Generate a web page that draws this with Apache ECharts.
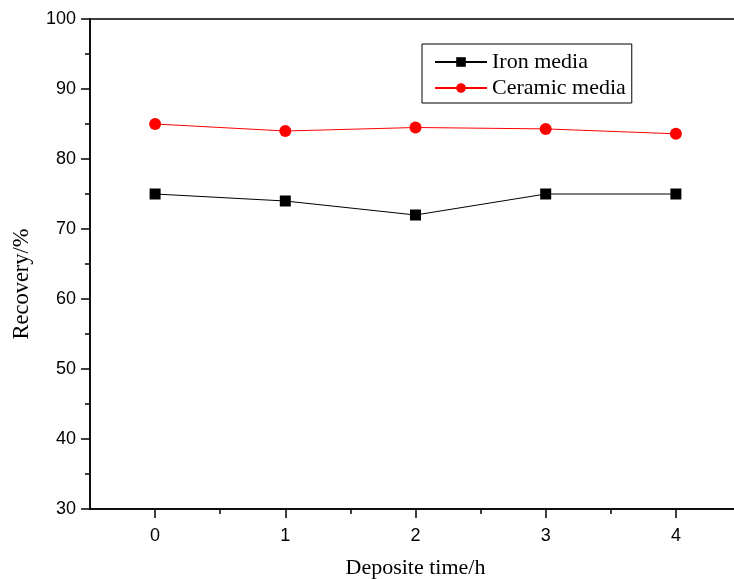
<!DOCTYPE html>
<html><head><meta charset="utf-8">
<script src="https://cdn.jsdelivr.net/npm/echarts@6/dist/echarts.min.js"></script>
<style>html,body{margin:0;padding:0;background:#fff;overflow:hidden}#c{width:741px;height:579px}</style>
</head><body><div id="c"></div>
<script>
const times = [0, 1, 2, 3, 4];
const ironMedia = [75, 74, 72, 75, 75];
const ceramicMedia = [85, 84, 84.5, 84.3, 83.6];
const xMajorTicks = [0, 1, 2, 3, 4];
const xMinorTicks = [0.5, 1.5, 2.5, 3.5];

const chart = echarts.init(document.getElementById('c'));
const serif = 'Liberation Serif';
const sans = 'Liberation Sans';
chart.setOption({
  animation: false,
  grid: {left: 90, top: 19, right: 0, bottom: 70, show: true, borderColor: '#000', borderWidth: 1.5, outerBoundsMode: 'none', containLabel: false},
  legend: {
    left: 422, top: 44, orient: 'vertical',
    borderColor: '#000', borderWidth: 1,
    padding: [7, 6, 4, 12], itemGap: 4,
    itemWidth: 52, itemHeight: 12,
    textStyle: {fontFamily: serif, fontSize: 22, color: '#000'},
    data: ['Iron media', 'Ceramic media']
  },
  xAxis: [{
    type: 'value', min: -0.5, max: 4.5, interval: 0.5,
    name: 'Deposite time/h', nameLocation: 'middle', nameGap: 48,
    nameTextStyle: {fontFamily: serif, fontSize: 22, color: '#000'},
    axisLine: {onZero: false, lineStyle: {color: '#000', width: 1.5}},
    axisTick: {customValues: xMajorTicks, length: 9, lineStyle: {color: '#000', width: 1.5}},
    axisLabel: {customValues: xMajorTicks, fontFamily: sans, fontSize: 18, color: '#000', margin: 18},
    splitLine: {show: false}
  }, {
    type: 'value', min: -0.5, max: 4.5, interval: 0.5, position: 'bottom',
    axisLine: {show: false, onZero: false},
    axisTick: {customValues: xMinorTicks, length: 5, lineStyle: {color: '#000', width: 1.5}},
    axisLabel: {show: false},
    splitLine: {show: false}
  }],
  yAxis: {
    type: 'value', min: 30, max: 100, interval: 10,
    name: 'Recovery/%', nameLocation: 'middle', nameGap: 56,
    nameTextStyle: {fontFamily: serif, fontSize: 22.5, color: '#000', padding: [0, 40, 0, 0]},
    axisLine: {show: true, onZero: false, lineStyle: {color: '#000', width: 1.5}},
    axisTick: {show: true, length: 9, lineStyle: {color: '#000', width: 1.5}},
    minorTick: {show: true, splitNumber: 2, length: 5, lineStyle: {color: '#000', width: 1.5}},
    axisLabel: {fontFamily: sans, fontSize: 18, color: '#000', margin: 14},
    splitLine: {show: false}
  },
  series: [{
    name: 'Iron media', type: 'line',
    data: times.map((t, i) => [t, ironMedia[i]]),
    symbol: 'rect', symbolSize: 11,
    itemStyle: {color: '#000'}, lineStyle: {color: '#000', width: 1}
  }, {
    name: 'Ceramic media', type: 'line',
    data: times.map((t, i) => [t, ceramicMedia[i]]),
    symbol: 'circle', symbolSize: 12,
    itemStyle: {color: '#ff0000'}, lineStyle: {color: '#ff0000', width: 1}
  }]
});
</script></body></html>
